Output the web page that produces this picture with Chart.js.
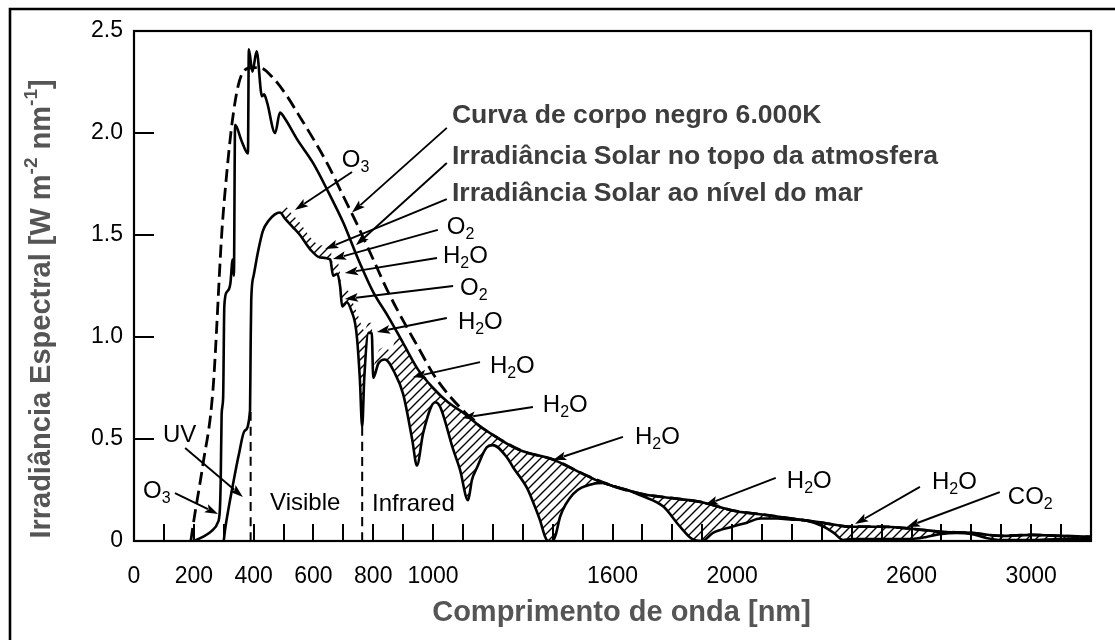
<!DOCTYPE html>
<html>
<head>
<meta charset="utf-8">
<script src="https://cdn.jsdelivr.net/npm/chart.js@4.4.1/dist/chart.umd.min.js"></script>
<style>
html,body{margin:0;padding:0;background:#fff;}
#wrap{width:1115px;height:640px;position:relative;}
</style>
</head>
<body>
<div id="wrap"><canvas id="c"></canvas></div>
<script>
// ---- axis ticks ----
const wavelengthTicks = [0,200,400,600,800,1000,1600,2000,2600,3000];
const irradianceTicks = [0,0.5,1.0,1.5,2.0,2.5];

// ---- Solar irradiance at top of atmosphere ----
const toaNm  = [200,230,260,280,287,290,293,298,302,310,322,330,334,338,360,381,384,396,410,428,435,445,472,488,505,545,600,650,700,750,800,850,900,950,1000,1050,1100,1150,1200,1268,1300,1400,1500,1559,1600,1700,1800,1900,2000,2100,2200,2300,2400,2500,2600,2700,2800,2900,3000,3100,3200];
const toaVal = [0,0.02,0.05,0.09,0.15,0.3,0.62,0.7,1.15,1.22,1.26,1.38,1.30,2.04,1.96,1.90,2.41,2.30,2.40,2.18,2.19,2.15,2.00,2.10,2.07,1.97,1.85,1.71,1.56,1.38,1.22,1.10,0.97,0.84,0.75,0.68,0.63,0.57,0.52,0.46,0.44,0.40,0.33,0.29,0.27,0.23,0.21,0.19,0.15,0.13,0.11,0.09,0.07,0.07,0.06,0.045,0.04,0.025,0.03,0.025,0.02];

// ---- Solar irradiance at sea level ----
const seaNm  = [300,305,315,330,350,370,388,390,392,400,415,431,450,470,488,505,530,555,589,622,656,666,680,689,696,712,729,739,746,755,763,770,784,795,800,817,839,873,900,930,946,967,1007,1023,1067,1090,1117,1130,1147,1180,1200,1247,1268,1314,1340,1358,1375,1385,1400,1410,1425,1468,1535,1570,1600,1650,1700,1769,1826,1866,1900,1936,2000,2050,2094,2150,2200,2250,2300,2340,2371,2400,2500,2600,2650,2700,2750,2800,2850,2900,3000,3100,3200];
const seaVal = [0,0.06,0.15,0.27,0.42,0.54,0.64,0.95,1.18,1.3,1.42,1.52,1.57,1.60,1.61,1.58,1.54,1.50,1.43,1.39,1.38,1.30,1.31,1.25,1.15,1.17,1.12,1.07,0.99,0.80,0.56,0.80,1.02,1.02,0.80,0.87,0.89,0.82,0.72,0.50,0.37,0.53,0.68,0.66,0.45,0.35,0.20,0.30,0.36,0.46,0.47,0.41,0.36,0.26,0.17,0.10,0.02,0,0,0.03,0.12,0.23,0.28,0.285,0.27,0.25,0.22,0.17,0.07,0.01,0,0.04,0.07,0.09,0.11,0.11,0.105,0.10,0.075,0.04,0.005,0.01,0.01,0.01,0.02,0.035,0.04,0.035,0.015,0.005,0.005,0.01,0.01];

// ---- Blackbody 6000 K curve (merges with the TOA curve beyond ~1100 nm) ----
const bbNm  = [190,200,230,264,294,310,328,348,371,398,421,465,512,550,600,650,700,750,800,850,900,950,1000,1050,1100,1150,1200,1300,1400,1500,1600,1700,1800,1900,2000,2100,2200,2300,2400,2500,2600,2700,2800,2900,3000,3100,3200];
const bbVal = [0,0.1,0.37,0.74,1.52,1.80,2.05,2.23,2.31,2.32,2.32,2.27,2.18,2.09,1.97,1.84,1.69,1.54,1.38,1.22,1.08,0.95,0.82,0.72,0.64,0.57,0.52,0.44,0.40,0.33,0.27,0.23,0.21,0.19,0.15,0.13,0.11,0.09,0.07,0.07,0.06,0.045,0.04,0.025,0.03,0.025,0.02];

// ---- upper edge of the hatched absorption marks in the visible / near IR (beyond 880 nm it is the TOA curve) ----
const hatchNm  = [488,505,530,555,589,622,656,666,680,689,696,712,729,739,746,755,763,770,784,795,800,817,839,860,880];
const hatchVal = [1.61,1.64,1.60,1.56,1.49,1.45,1.44,1.36,1.37,1.31,1.21,1.23,1.18,1.14,1.12,1.08,1.05,1.03,1.07,1.07,0.86,0.93,0.95,0.93,1.02];

// ---- band boundaries (UV/Visible, Visible/Infrared) ----
const bandEdgeNm  = [390, 763];
const bandEdgeTop = [0.64, 0.56];

// ---- annotations (data coordinates) ----
const annoText = ['Curva de corpo negro 6.000K','Irradiância Solar no topo da atmosfera','Irradiância Solar ao nível do mar','O_2','H_2O','O_2','H_2O','H_2O','H_2O','H_2O','H_2O','H_2O','CO_2','UV','O_3','O_3','Visible','Infrared'];
const annoNm   = [1063,1063,1063,1046,1033,1090,1083,1190,1367,1675,2183,2668,2922,97,30,695,455,796];
const annoVal  = [2.083,1.882,1.701,1.539,1.397,1.240,1.074,0.858,0.667,0.510,0.294,0.289,0.216,0.52,0.245,1.868,0.186,0.181];
const annoBold = [true,true,true,false,false,false,false,false,false,false,false,false,false,false,false,false,false,false];
const arrowFromNm  = [1046,1046,1046,1016,1013,1067,1046,1157,1334,1635,2146,2628,2895,171,137,729];
const arrowFromVal = [2.025,1.853,1.676,1.525,1.387,1.25,1.093,0.877,0.657,0.510,0.309,0.265,0.240,0.456,0.235,1.809];
const arrowToNm    = [729,742,639,665,705,705,812,933,1097,1401,1909,2411,2584,364,281,538];
const arrowToVal   = [1.61,1.45,1.431,1.382,1.314,1.186,1.025,0.804,0.603,0.397,0.176,0.083,0.069,0.216,0.132,1.623];

const xTitle = 'Comprimento de onda [nm]';
const yTitle = 'Irradiância Espectral [W m^{-2} nm^{-1}]';

const FONT = '"Liberation Sans", Arial, Helvetica, sans-serif';

// hatch pattern
function makeHatch(){
  const s = 9;
  const pc = document.createElement('canvas');
  pc.width = s; pc.height = s;
  const g = pc.getContext('2d');
  g.strokeStyle = '#000'; g.lineWidth = 1.4; g.lineCap = 'square';
  g.beginPath();
  g.moveTo(0, s); g.lineTo(s, 0);
  g.moveTo(-s/2, s/2); g.lineTo(s/2, -s/2);
  g.moveTo(s/2, s*1.5); g.lineTo(s*1.5, s/2);
  g.stroke();
  return g.createPattern(pc, 'repeat');
}
const hatch = makeHatch();

const pts = (xs, ys) => xs.map((x, i) => ({x, y: ys[i]}));
const hatchPts = pts(hatchNm, hatchVal).concat(pts(toaNm, toaVal).filter(p => p.x >= 900));

const baseLine = {pointRadius:0, borderColor:'#000', fill:false, cubicInterpolationMode:'monotone'};
const datasets = [
  Object.assign({label:'TOA', data: pts(toaNm, toaVal), borderWidth:2.6}, baseLine),
  Object.assign({label:'Sea level', data: pts(seaNm, seaVal), borderWidth:2.6}, baseLine),
  Object.assign({label:'Blackbody', data: pts(bbNm, bbVal), borderWidth:2.8, borderDash:[13,6]}, baseLine),
];
bandEdgeNm.forEach((nm, i) => {
  datasets.push(Object.assign({label:'edge'+i, data:[{x:nm,y:0},{x:nm,y:bandEdgeTop[i]}], borderWidth:2, borderDash:[9,6]}, baseLine));
});
datasets.push({label:'hatch', data: hatchPts, borderWidth:0, pointRadius:0, borderColor:'rgba(0,0,0,0)',
  backgroundColor: hatch, fill: 1, cubicInterpolationMode:'monotone'});

function parseRich(str){
  const parts = [];
  let i = 0, buf = '';
  while (i < str.length){
    const ch = str[i];
    if (ch === '_'){
      if (buf){parts.push({t:buf, k:0}); buf='';}
      parts.push({t:str[i+1], k:-1}); i += 2; continue;
    }
    if (ch === '^' && str[i+1] === '{'){
      if (buf){parts.push({t:buf, k:0}); buf='';}
      const j = str.indexOf('}', i);
      parts.push({t:str.slice(i+2, j), k:1}); i = j+1; continue;
    }
    buf += ch; i++;
  }
  if (buf) parts.push({t:buf, k:0});
  return parts;
}
function drawRich(ctx, str, x, y, size, weight, color, align){
  const parts = parseRich(str);
  const fontFor = k => weight + ' ' + (k === 0 ? size : Math.round(size*0.66)) + 'px ' + FONT;
  let w = 0;
  parts.forEach(p => { ctx.font = fontFor(p.k); p.w = ctx.measureText(p.t).width; w += p.w; });
  let cx = align === 'center' ? x - w/2 : x;
  ctx.fillStyle = color; ctx.textBaseline = 'middle'; ctx.textAlign = 'left';
  parts.forEach(p => {
    ctx.font = fontFor(p.k);
    const dy = p.k === -1 ? size*0.30 : (p.k === 1 ? -size*0.36 : 0);
    ctx.fillText(p.t, cx, y + dy);
    cx += p.w;
  });
}
function drawArrow(ctx, x1, y1, x2, y2){
  const a = Math.atan2(y2 - y1, x2 - x1);
  const L = 14, W = 0.32;
  ctx.beginPath(); ctx.moveTo(x1, y1);
  ctx.lineTo(x2 - Math.cos(a)*L*0.8, y2 - Math.sin(a)*L*0.8); ctx.stroke();
  ctx.beginPath();
  ctx.moveTo(x2, y2);
  ctx.lineTo(x2 - L*Math.cos(a - W), y2 - L*Math.sin(a - W));
  ctx.lineTo(x2 - L*0.75*Math.cos(a), y2 - L*0.75*Math.sin(a));
  ctx.lineTo(x2 - L*Math.cos(a + W), y2 - L*Math.sin(a + W));
  ctx.closePath(); ctx.fill();
}

const deco = {
  id:'deco',
  beforeDraw(chart){
    const ctx = chart.ctx;
    ctx.save(); ctx.fillStyle = '#fff'; ctx.fillRect(0,0,chart.width,chart.height); ctx.restore();
  },
  afterDatasetsDraw(chart){
    const {ctx, chartArea:a, scales:{x, y}} = chart;
    ctx.save();
    ctx.strokeStyle = '#000'; ctx.lineWidth = 2.2;
    ctx.strokeRect(a.left, a.top, a.right - a.left, a.bottom - a.top);
    ctx.lineWidth = 2;
    ctx.beginPath();
    x.ticks.forEach(t => {
      if (t.value <= x.min || t.value >= x.max) return;
      const px = Math.round(x.getPixelForValue(t.value));
      ctx.moveTo(px, a.bottom); ctx.lineTo(px, a.bottom - 17);
    });
    y.ticks.forEach(t => {
      if (t.value <= y.min || t.value >= y.max) return;
      const py = Math.round(y.getPixelForValue(t.value));
      ctx.moveTo(a.left, py); ctx.lineTo(a.left + 20, py);
    });
    ctx.stroke();
    ctx.restore();
  },
  afterDraw(chart){
    const {ctx, chartArea:a, scales:{x, y}} = chart;
    ctx.save();
    // outer frame (top & left)
    ctx.strokeStyle = '#000'; ctx.lineWidth = 2.6;
    ctx.beginPath(); ctx.moveTo(10, chart.height); ctx.lineTo(10, 9); ctx.lineTo(chart.width, 9); ctx.stroke();
    // arrows
    ctx.lineWidth = 1.9; ctx.fillStyle = '#000';
    arrowFromNm.forEach((nm, i) => {
      drawArrow(ctx, x.getPixelForValue(nm), y.getPixelForValue(arrowFromVal[i]),
                     x.getPixelForValue(arrowToNm[i]), y.getPixelForValue(arrowToVal[i]));
    });
    // labels
    annoText.forEach((t, i) => {
      const px = x.getPixelForValue(annoNm[i]), py = y.getPixelForValue(annoVal[i]);
      if (annoBold[i]) drawRich(ctx, t, px, py, 26.6, 'bold', '#3d3d3d', 'left');
      else drawRich(ctx, t, px, py, 24, 'normal', '#000', 'left');
    });
    // axis titles
    drawRich(ctx, xTitle, (a.left + a.right)/2 + 9, 613, 29, 'bold', '#555', 'center');
    ctx.translate(42, (a.top + a.bottom)/2 + 23);
    ctx.rotate(-Math.PI/2);
    drawRich(ctx, yTitle, 0, 0, 29, 'bold', '#555', 'center');
    ctx.restore();
  }
};

new Chart(document.getElementById('c'), {
  type:'line',
  data:{datasets},
  options:{
    responsive:true, maintainAspectRatio:false, animation:false,
    parsing:true,
    layout:{padding:{left:0, top:31, right:24, bottom:0}},
    plugins:{legend:{display:false}, tooltip:{enabled:false}, filler:{propagate:false}},
    scales:{
      x:{type:'linear', min:0, max:3200,
        grid:{display:false, drawTicks:false}, border:{display:false},
        ticks:{stepSize:100, autoSkip:false, maxRotation:0, padding:22, color:'#000',
          font:{family:FONT, size:23},
          callback:v => wavelengthTicks.includes(v) ? String(v) : ''},
        afterFit:s => { s.height = 99; }
      },
      y:{type:'linear', min:0, max:2.5,
        grid:{display:false, drawTicks:false}, border:{display:false},
        ticks:{stepSize:0.5, padding:11, color:'#000', font:{family:FONT, size:23},
          callback:v => irradianceTicks.includes(v) ? (v === 0 ? '0' : v.toFixed(1)) : ''},
        afterFit:s => { s.width = 134; }
      }
    }
  },
  plugins:[deco]
});
</script>
</body>
</html>
